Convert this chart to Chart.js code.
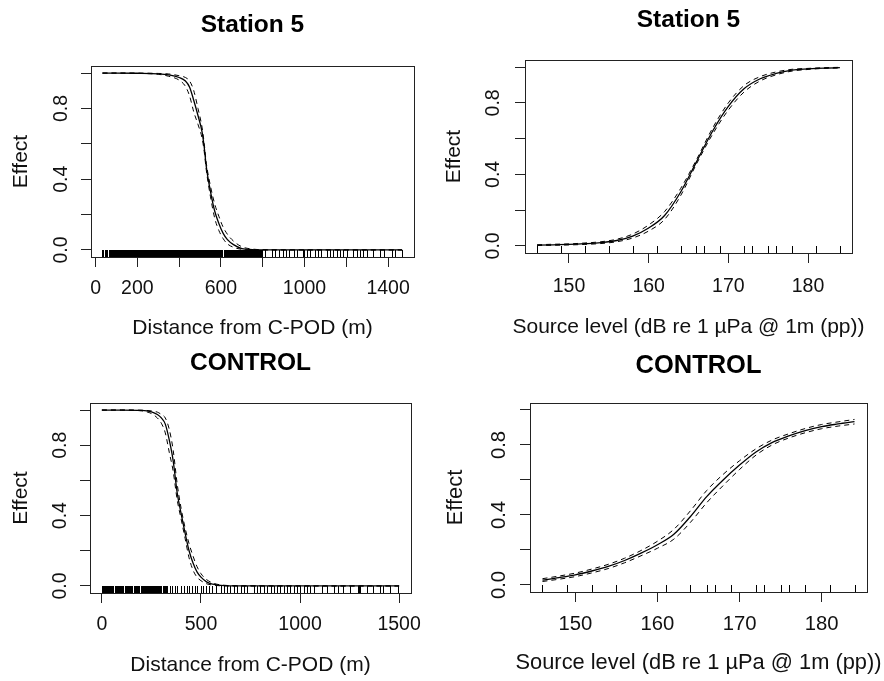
<!DOCTYPE html>
<html>
<head>
<meta charset="utf-8">
<script src="https://cdn.jsdelivr.net/npm/chart.js@4.4.1/dist/chart.umd.min.js"></script>
<style>
  html, body { margin: 0; padding: 0; background: #fff; }
  #wrap { position: relative; width: 884px; height: 681px; }
  canvas { position: absolute; }
</style>
</head>
<body>
<div id="wrap">
  <canvas id="s5dist" width="442" height="340" style="left:0;top:0"></canvas>
  <canvas id="s5src" width="442" height="340" style="left:442px;top:0"></canvas>
  <canvas id="ctldist" width="442" height="341" style="left:0;top:340px"></canvas>
  <canvas id="ctlsrc" width="442" height="341" style="left:442px;top:340px"></canvas>
</div>
<script>
// tick values and labels (R drops labels that would overlap)
const effectTicks = [0, 0.2, 0.4, 0.6, 0.8, 1.0];
const effectTickLabels = ['0.0', '', '0.4', '', '0.8', ''];
const s5DistTicks = [0, 200, 400, 600, 800, 1000, 1200, 1400];
const s5DistTickLabels = ['0', '200', '', '600', '', '1000', '', '1400'];
const ctlDistTicks = [0, 500, 1000, 1500];
const ctlDistTickLabels = ['0', '500', '1000', '1500'];
const srcTicks = [150, 160, 170, 180];
const srcTickLabels = ['150', '160', '170', '180'];

// Station 5 - distance from C-POD
const s5DistX = [33, 100, 200, 300, 350, 400, 430, 450, 470, 490, 510, 520, 530, 550, 570, 590, 610, 630, 660, 700, 750, 800, 1000, 1200, 1467];
const s5DistFit = [1.0, 1.0, 0.999, 0.996, 0.99, 0.975, 0.955, 0.92, 0.845, 0.76, 0.665, 0.58, 0.47, 0.33, 0.22, 0.15, 0.095, 0.06, 0.03, 0.008, 0.002, 0, 0, 0, 0];
const s5DistUpper = [1.0, 1.0, 1.0, 0.998, 0.995, 0.985, 0.975, 0.955, 0.9, 0.8, 0.69, 0.6, 0.49, 0.36, 0.26, 0.19, 0.13, 0.09, 0.05, 0.018, 0.005, 0.001, 0, 0, 0];
const s5DistLower = [1.0, 1.0, 0.998, 0.993, 0.982, 0.96, 0.925, 0.87, 0.78, 0.71, 0.63, 0.555, 0.45, 0.3, 0.18, 0.11, 0.065, 0.035, 0.015, 0.003, 0, 0, 0, 0, 0];
const s5DistRugBands = [[31, 36], [44, 48], [70, 128], [138, 605], [614, 790]];
const s5DistRugTicks = [55, 62, 133, 796, 812, 844, 860, 879, 895, 911, 927, 948, 964, 992, 999, 1011, 1027, 1051, 1064, 1078, 1107, 1120, 1136, 1155, 1171, 1186, 1203, 1231, 1250, 1266, 1282, 1298, 1330, 1362, 1381, 1418, 1433, 1465];

// CONTROL - distance from C-POD
const ctlDistX = [0, 100, 200, 250, 280, 300, 320, 340, 360, 380, 400, 420, 440, 460, 480, 500, 530, 560, 600, 700, 1000, 1500];
const ctlDistFit = [1, 1, 0.998, 0.99, 0.975, 0.955, 0.92, 0.83, 0.71, 0.53, 0.41, 0.3, 0.2, 0.13, 0.08, 0.05, 0.022, 0.01, 0.003, 0, 0, 0];
const ctlDistUpper = [1, 1, 0.999, 0.995, 0.988, 0.975, 0.955, 0.89, 0.77, 0.58, 0.44, 0.33, 0.24, 0.17, 0.11, 0.07, 0.035, 0.017, 0.006, 0.001, 0, 0];
const ctlDistLower = [1, 1, 0.995, 0.98, 0.955, 0.925, 0.87, 0.76, 0.65, 0.49, 0.38, 0.27, 0.16, 0.09, 0.05, 0.03, 0.012, 0.005, 0.001, 0, 0, 0];
const ctlDistRugBands = [[2, 56], [64, 108], [118, 150], [160, 186], [196, 297], [306, 330]];
const ctlDistRugTicks = [345, 356, 369, 381, 398, 414, 428, 440, 453, 468, 481, 498, 512, 523, 540, 557, 574, 599, 616, 633, 649, 666, 683, 700, 716, 733, 767, 783, 800, 817, 834, 851, 867, 884, 901, 918, 934, 951, 968, 985, 1002, 1018, 1035, 1052, 1068, 1111, 1136, 1169, 1194, 1219, 1253, 1295, 1299, 1303, 1337, 1370, 1404, 1421, 1454, 1496];

// source level (both stations share the same x values and rug)
const srcX = [146, 148, 150, 152, 154, 156, 158, 160, 162, 164, 166, 168, 170, 172, 174, 176, 178, 180, 182, 184];
const srcRugTicks = [146, 149, 152, 155, 158, 161, 164, 166, 167, 169, 172, 173, 175, 176, 178, 181, 184];
const s5SrcFit = [0.004, 0.006, 0.008, 0.012, 0.018, 0.03, 0.055, 0.1, 0.17, 0.3, 0.47, 0.64, 0.78, 0.88, 0.935, 0.965, 0.983, 0.99, 0.995, 0.997];
const s5SrcUpper = [0.006, 0.009, 0.011, 0.016, 0.023, 0.037, 0.066, 0.117, 0.192, 0.32, 0.482, 0.657, 0.8, 0.898, 0.947, 0.973, 0.988, 0.993, 0.997, 0.999];
const s5SrcLower = [0.002, 0.003, 0.005, 0.008, 0.013, 0.023, 0.044, 0.083, 0.148, 0.28, 0.458, 0.623, 0.76, 0.862, 0.923, 0.957, 0.978, 0.987, 0.993, 0.995];
const ctlSrcFit = [0.028, 0.042, 0.058, 0.08, 0.106, 0.14, 0.182, 0.23, 0.29, 0.39, 0.505, 0.6, 0.685, 0.76, 0.815, 0.852, 0.882, 0.905, 0.92, 0.933];
const ctlSrcUpper = [0.036, 0.051, 0.068, 0.091, 0.118, 0.153, 0.197, 0.25, 0.318, 0.423, 0.54, 0.632, 0.71, 0.778, 0.829, 0.864, 0.894, 0.917, 0.932, 0.946];
const ctlSrcLower = [0.02, 0.033, 0.048, 0.069, 0.094, 0.127, 0.167, 0.21, 0.262, 0.357, 0.47, 0.568, 0.66, 0.742, 0.801, 0.84, 0.87, 0.893, 0.908, 0.92];

const FONT = '"Liberation Sans", Arial, sans-serif';
Chart.defaults.font.family = FONT;
Chart.defaults.color = '#111';

// plot frame, rug marks along the bottom edge, and the x-axis title
// (drawn here so a long title may run past the plot width, as in R)
const frameAndRug = {
  id: 'frameAndRug',
  afterDatasetsDraw(chart, args, opts) {
    const { ctx, chartArea: a } = chart;
    const x = chart.scales.x;
    const h = Math.round((a.bottom - a.top) * 0.036);
    const bottom = Math.round(a.bottom);
    ctx.save();
    ctx.fillStyle = '#000';
    ctx.strokeStyle = '#000';
    ctx.lineWidth = 1;
    (opts.bands || []).forEach(([s, e]) => {
      const x0 = Math.round(x.getPixelForValue(s));
      const x1 = Math.round(x.getPixelForValue(e)) + 1;
      ctx.fillRect(x0, bottom - h, x1 - x0, h);
    });
    ctx.beginPath();
    (opts.ticks || []).forEach(v => {
      const px = Math.round(x.getPixelForValue(v)) + 0.5;
      ctx.moveTo(px, bottom);
      ctx.lineTo(px, bottom - h);
    });
    ctx.stroke();
    ctx.strokeStyle = '#222';
    ctx.strokeRect(Math.round(a.left) + 0.5, Math.round(a.top) + 0.5,
      Math.round(a.right - a.left), Math.round(a.bottom - a.top));
    if (opts.xTitle) {
      ctx.fillStyle = '#111';
      ctx.font = opts.xTitleSize + 'px ' + FONT;
      ctx.textAlign = 'center';
      ctx.textBaseline = 'middle';
      ctx.fillText(opts.xTitle, (a.left + a.right) / 2, opts.xTitleY);
    }
    ctx.restore();
  }
};

function pairs(xs, ys) {
  return xs.map((x, i) => ({ x: x, y: ys[i] }));
}

function makePanel(id, o, g) {
  const axisGrid = { drawOnChartArea: false, drawTicks: true, tickLength: 10, color: '#222' };
  const tickSize = 19.5 * g.scale;
  return new Chart(document.getElementById(id), {
    type: 'line',
    data: {
      datasets: [
        { data: pairs(o.xs, o.fit), borderColor: '#000', borderWidth: 1.3 },
        { data: pairs(o.xs, o.upper), borderColor: '#000', borderWidth: 1, borderDash: [5, 4] },
        { data: pairs(o.xs, o.lower), borderColor: '#000', borderWidth: 1, borderDash: [5, 4] }
      ]
    },
    options: {
      responsive: false,
      animation: false,
      datasets: { line: { pointRadius: 0, cubicInterpolationMode: 'monotone', fill: false } },
      layout: { padding: { left: 0, right: g.padRight, top: 0, bottom: 0 } },
      plugins: {
        legend: { display: false },
        tooltip: { enabled: false },
        title: {
          display: true, text: o.title, fullSize: false, color: '#000',
          font: { size: 24.5 * g.scale, weight: 'bold', lineHeight: 1.2 },
          padding: { top: g.titleTop, bottom: g.titleBottom }
        },
        frameAndRug: {
          ticks: o.rugTicks, bands: o.rugBands,
          xTitle: o.xTitle, xTitleY: g.xTitleY, xTitleSize: 21 * g.scale
        }
      },
      scales: {
        x: {
          type: 'linear', min: o.xMin, max: o.xMax,
          afterBuildTicks: s => { s.ticks = o.xTicks.map(v => ({ value: v })); },
          afterFit: s => { s.height = g.xHeight; },
          ticks: {
            autoSkip: false, maxRotation: 0, padding: g.xTickPad, color: '#111',
            font: { size: tickSize },
            callback: (v, i) => o.xLabels[i]
          },
          grid: axisGrid,
          border: { display: false },
          title: { display: false }
        },
        y: {
          type: 'linear', min: -0.04, max: 1.04,
          afterBuildTicks: s => { s.ticks = effectTicks.map(v => ({ value: v })); },
          afterFit: s => { s.width = g.yWidth; },
          ticks: {
            autoSkip: false, minRotation: 90, maxRotation: 90, crossAlign: 'center',
            padding: g.yTickPad, color: '#111', font: { size: tickSize },
            callback: (v, i) => effectTickLabels[i]
          },
          grid: axisGrid,
          border: { display: false },
          title: {
            display: true, text: 'Effect', color: '#111',
            font: { size: 21 * g.scale, lineHeight: 1 },
            padding: { top: g.yTitlePad, bottom: 0 }
          }
        }
      }
    },
    plugins: [frameAndRug]
  });
}

makePanel('s5dist', {
  title: 'Station 5', xTitle: 'Distance from C-POD (m)',
  xMin: -22, xMax: 1524, xTicks: s5DistTicks, xLabels: s5DistTickLabels,
  xs: s5DistX, fit: s5DistFit, upper: s5DistUpper, lower: s5DistLower,
  rugTicks: s5DistRugTicks, rugBands: s5DistRugBands
}, { scale: 1, padRight: 28, yWidth: 91, xHeight: 83, titleTop: 10.3, titleBottom: 26.3,
     yTickPad: 5.5, yTitlePad: 10.5, xTickPad: 10.3, xTitleY: 328 });

makePanel('s5src', {
  title: 'Station 5', xTitle: 'Source level (dB re 1 µPa @ 1m (pp))',
  xMin: 144.48, xMax: 185.52, xTicks: srcTicks, xLabels: srcTickLabels,
  xs: srcX, fit: s5SrcFit, upper: s5SrcUpper, lower: s5SrcLower,
  rugTicks: srcRugTicks, rugBands: []
}, { scale: 1, padRight: 32, yWidth: 83, xHeight: 87, titleTop: 5.3, titleBottom: 25.3,
     yTickPad: 7.5, yTitlePad: 1.5, xTickPad: 12, xTitleY: 327 });

makePanel('ctldist', {
  title: 'CONTROL', xTitle: 'Distance from C-POD (m)',
  xMin: -60, xMax: 1560, xTicks: ctlDistTicks, xLabels: ctlDistTickLabels,
  xs: ctlDistX, fit: ctlDistFit, upper: ctlDistUpper, lower: ctlDistLower,
  rugTicks: ctlDistRugTicks, rugBands: ctlDistRugBands
}, { scale: 1, padRight: 31, yWidth: 90, xHeight: 88, titleTop: 8.8, titleBottom: 24.8,
     yTickPad: 5.5, yTitlePad: 10.5, xTickPad: 10.3, xTitleY: 325.5 });

makePanel('ctlsrc', {
  title: 'CONTROL', xTitle: 'Source level (dB re 1 µPa @ 1m (pp))',
  xMin: 144.48, xMax: 185.52, xTicks: srcTicks, xLabels: srcTickLabels,
  xs: srcX, fit: ctlSrcFit, upper: ctlSrcUpper, lower: ctlSrcLower,
  rugTicks: srcRugTicks, rugBands: []
}, { scale: 1.04, padRight: 17, yWidth: 88, xHeight: 89, titleTop: 10.7, titleBottom: 21.7,
     yTickPad: 6.9, yTitlePad: 3, xTickPad: 10.3, xTitleY: 322.5 });
</script>
</body>
</html>
